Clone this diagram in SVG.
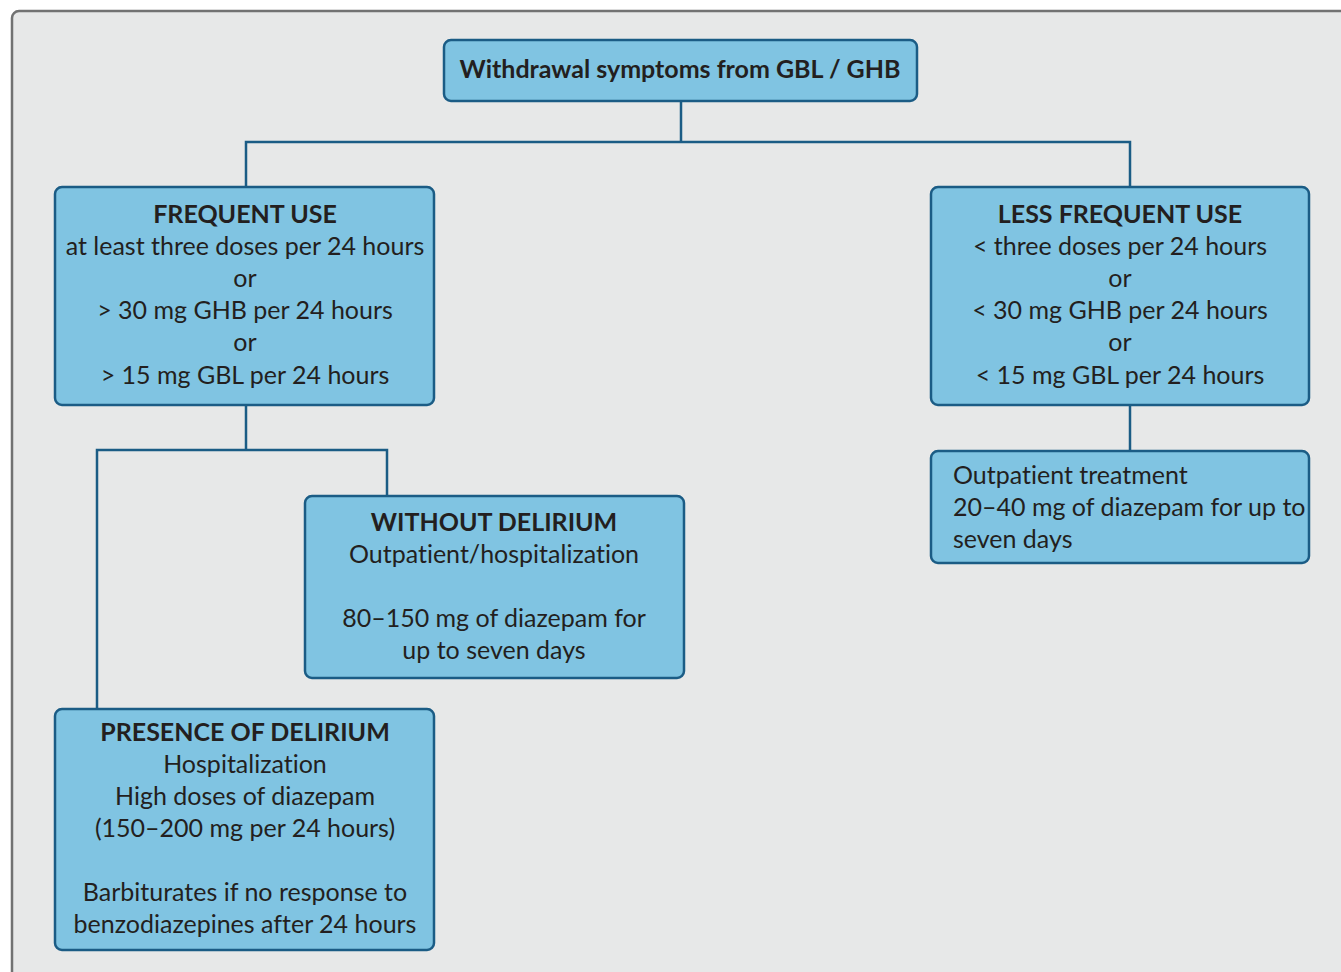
<svg xmlns="http://www.w3.org/2000/svg" width="1341" height="972" viewBox="0 0 1341 972">
<style>
.bg{fill:#e7e8e8;stroke:#727272;stroke-width:2.5}
.box{fill:#80c4e2;stroke:#1b5c85;stroke-width:2.5}
.ln{fill:none;stroke:#1b5c85;stroke-width:2.5}
text{font-family:Lato,"Liberation Sans",sans-serif;font-size:25px;fill:#231f20;font-variant-ligatures:none}
.c{text-anchor:middle}
.b{font-weight:bold}
</style>
<rect class="bg" x="12" y="11" width="1345" height="980" rx="7"/>
<g id="connectors">
<path class="ln" d="M681,101 V142 M246,187 V142 H1130 V187"/>
<path class="ln" d="M246,405 V450 M97,709 V450 H387 V496"/>
<path class="ln" d="M1130,405 V451"/>
</g>
<g id="top">
<rect class="box" x="444" y="40" width="473" height="61" rx="7"/>
<text class="c b" x="680" y="78">Withdrawal symptoms from GBL / GHB</text>
</g>
<g id="frequent">
<rect class="box" x="55" y="187" width="379" height="218" rx="7"/>
<text class="c" x="245"><tspan class="b" x="245" y="223">FREQUENT USE</tspan><tspan x="245" y="255">at least three doses per 24 hours</tspan><tspan x="245" y="287">or</tspan><tspan x="245" y="319">&gt; 30 mg GHB per 24 hours</tspan><tspan x="245" y="351">or</tspan><tspan x="245" y="384">&gt; 15 mg GBL per 24 hours</tspan></text>
</g>
<g id="less-frequent">
<rect class="box" x="931" y="187" width="378" height="218" rx="7"/>
<text class="c" x="1120"><tspan class="b" x="1120" y="223">LESS FREQUENT USE</tspan><tspan x="1120" y="255">&lt; three doses per 24 hours</tspan><tspan x="1120" y="287">or</tspan><tspan x="1120" y="319">&lt; 30 mg GHB per 24 hours</tspan><tspan x="1120" y="351">or</tspan><tspan x="1120" y="384">&lt; 15 mg GBL per 24 hours</tspan></text>
</g>
<g id="outpatient">
<rect class="box" x="931" y="451" width="378" height="112" rx="7"/>
<text><tspan x="953" y="484">Outpatient treatment</tspan><tspan x="953" y="516">20–40 mg of diazepam for up to</tspan><tspan x="953" y="548">seven days</tspan></text>
</g>
<g id="without-delirium">
<rect class="box" x="305" y="496" width="379" height="182" rx="7"/>
<text class="c" x="494"><tspan class="b" x="494" y="531">WITHOUT DELIRIUM</tspan><tspan x="494" y="563">Outpatient/hospitalization</tspan><tspan x="494" y="627">80–150 mg of diazepam for</tspan><tspan x="494" y="659">up to seven days</tspan></text>
</g>
<g id="presence-delirium">
<rect class="box" x="55" y="709" width="379" height="241" rx="7"/>
<text class="c" x="245"><tspan class="b" x="245" y="741">PRESENCE OF DELIRIUM</tspan><tspan x="245" y="773">Hospitalization</tspan><tspan x="245" y="805">High doses of diazepam</tspan><tspan x="245" y="837">(150–200 mg per 24 hours)</tspan><tspan x="245" y="901">Barbiturates if no response to</tspan><tspan x="245" y="933">benzodiazepines after 24 hours</tspan></text>
</g>
</svg>
